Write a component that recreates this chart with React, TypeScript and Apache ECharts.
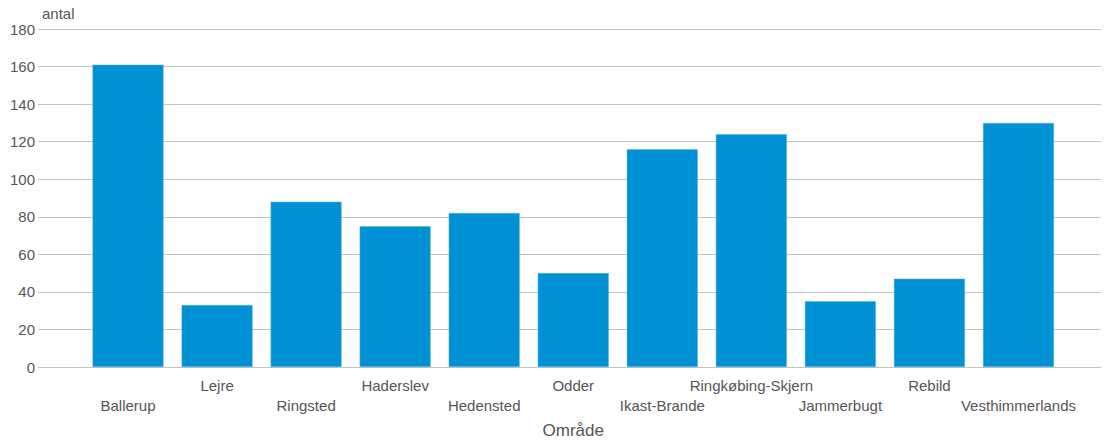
import React, { useEffect, useRef } from "react";
import * as echarts from "echarts";

const categories = [
  "Ballerup",
  "Lejre",
  "Ringsted",
  "Haderslev",
  "Hedensted",
  "Odder",
  "Ikast-Brande",
  "Ringkøbing-Skjern",
  "Jammerbugt",
  "Rebild",
  "Vesthimmerlands",
];
const values = [161, 33, 88, 75, 82, 50, 116, 124, 35, 47, 130];
const yMin = 0;
const yMax = 180;
const yStep = 20;
const yName = "antal";
const xName = "Område";

const FONT = "'Liberation Sans', Arial, sans-serif";
const TEXT = "#555555";
const GRID = "#c4c4b8";
const BAR = "#0091d5";

export default function App() {
  const ref = useRef<HTMLDivElement>(null);
  useEffect(() => {
    if (!ref.current) return;
    const chart = echarts.init(ref.current, undefined, { renderer: "svg" });
    chart.setOption({
      animation: false,
      textStyle: { fontFamily: FONT },
      grid: [
        { left: 38, right: 4, top: 29, bottom: 74, outerBoundsMode: "none", containLabel: false },
        { left: 83.5, right: 42, top: 29, bottom: 74, outerBoundsMode: "none", containLabel: false },
      ],
      xAxis: [
        { type: "value", gridIndex: 0, show: false, min: 0, max: 1 },
        {
          type: "category",
          gridIndex: 1,
          data: categories,
          axisLine: { show: false },
          axisTick: { show: false },
          axisLabel: {
            interval: 0,
            margin: 8,
            color: TEXT,
            fontSize: 15,
            fontFamily: FONT,
            lineHeight: 20,
            formatter: (v: string, i: number) => (i % 2 === 0 ? "\n" + v : v),
          },
          name: xName,
          nameLocation: "middle",
          nameGap: 63,
          nameTextStyle: {
            color: TEXT,
            fontSize: 17,
            fontFamily: FONT,
            verticalAlign: "middle",
          },
        },
      ],
      yAxis: [
        {
          type: "value",
          gridIndex: 0,
          min: yMin,
          max: yMax,
          interval: yStep,
          axisLine: { show: false },
          axisTick: { show: false },
          axisLabel: { color: TEXT, fontSize: 15, fontFamily: FONT, margin: 3 },
          splitLine: { lineStyle: { color: GRID, width: 1 } },
          name: yName,
          nameLocation: "end",
          nameGap: 8,
          nameTextStyle: {
            color: TEXT,
            fontSize: 15,
            fontFamily: FONT,
            align: "left",
            verticalAlign: "bottom",
            padding: [0, 0, 0, 4],
          },
        },
        {
          type: "value",
          gridIndex: 1,
          min: yMin,
          max: yMax,
          interval: yStep,
          show: false,
          splitLine: { show: false },
        },
      ],
      series: [
        {
          type: "bar",
          xAxisIndex: 1,
          yAxisIndex: 1,
          data: values,
          barWidth: 71,
          itemStyle: { color: BAR, borderColor: "#5ab4e3", borderWidth: 0.5 },
        },
      ],
    });
    return () => chart.dispose();
  }, []);
  return (
    <div
      ref={ref}
      style={{ position: "fixed", left: 0, top: 0, width: 1105, height: 441, background: "#fff" }}
    />
  );
}
